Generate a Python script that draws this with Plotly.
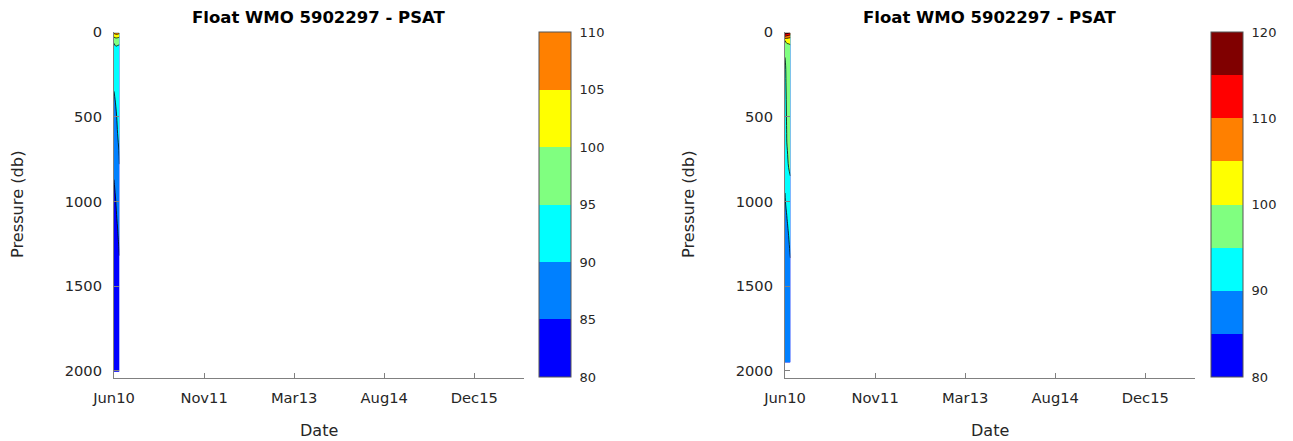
import plotly.graph_objects as go
from datetime import date, timedelta

# ---------------- data ----------------
profile_dates = ["2010-06-25", "2010-07-05", "2010-07-15", "2010-07-25"]

pres_left = [5, 25, 50, 100, 200, 300, 400, 500, 600, 700, 800, 900,
             1000, 1100, 1200, 1300, 1400, 1600, 1800, 2005]
psat_left_p1 = [106, 101, 96, 93, 91.5, 90.5, 89.5, 88.5, 87.5, 86.5, 85.5, 84.8,
                84.3, 83.8, 83.3, 83.0, 82.7, 82.3, 82.0, 81.8]
psat_left_p2 = [107, 102, 97, 94, 92, 91, 90.3, 89.5, 88.5, 87.5, 86.5, 85.7,
                85.0, 84.5, 84.0, 83.6, 83.3, 82.8, 82.4, 82.1]
psat_left_p3 = [107, 102, 96.5, 94, 92.5, 91.5, 91, 90.5, 90, 89, 88, 87,
                86, 85.4, 84.7, 84.2, 83.8, 83.2, 82.8, 82.4]
psat_left_p4 = [106, 101, 96, 94, 93, 92.5, 92, 91.5, 90.8, 90.4, 89.9, 89,
                88, 87, 86, 85.1, 84.6, 83.8, 83.3, 82.9]

pres_right = [5, 25, 50, 100, 200, 300, 400, 500, 600, 700, 800, 900,
              1000, 1100, 1200, 1300, 1400, 1600, 1800, 1950]
psat_right_p1 = [118, 110, 100, 96, 94, 93.5, 93, 92.5, 92, 91.5, 91, 90.3,
                 89.7, 89, 88.5, 88, 87.5, 87, 86.6, 86.3]
psat_right_p2 = [117, 109, 101, 98, 96.8, 96.3, 95.9, 95.6, 95.2, 94.8, 94, 92.5,
                 91, 89.8, 89.3, 88.8, 88.4, 87.8, 87.3, 87.0]
psat_right_p3 = [116, 108, 101, 98.5, 97.2, 96.7, 96.3, 96, 95.7, 95.4, 95, 93.8,
                 92.5, 91.3, 90, 89.5, 89, 88.3, 87.8, 87.4]
psat_right_p4 = [115, 107, 101, 99, 97.5, 97, 96.6, 96.2, 95.8, 95.5, 95.2, 94.8,
                 93, 92, 91, 90.2, 89.6, 88.8, 88.2, 87.8]

x_tick_labels = ["Jun10", "Nov11", "Mar13", "Aug14", "Dec15"]
y_tick_values = [0, 500, 1000, 1500, 2000]
cb_left_range = [80, 110]
cb_right_range = [80, 120]
cb_left_ticks = [80, 85, 90, 95, 100, 105, 110]
cb_right_ticks = [80, 90, 100, 110, 120]
title_text = "Float WMO 5902297 - PSAT"

# ---------------- styling ----------------
W, H = 1293, 441
OFF = 8  # page body margin
BLUE, AZURE, CYAN, LGREEN = "#0000ff", "#0080ff", "#00ffff", "#80ff80"
YELLOW, ORANGE, RED, DRED = "#ffff00", "#ff8000", "#ff0000", "#800000"
TXT = "#262626"
AXC = "#808080"
FONT = "DejaVu Sans"

left_levels = [BLUE, AZURE, CYAN, LGREEN, YELLOW, ORANGE]
right_levels = [BLUE, AZURE, CYAN, LGREEN, YELLOW, ORANGE, RED, DRED]


def contour_scale(colors):
    # band colours sampled at nodes: below-start, each band, above-end
    full = [colors[0]] + colors + [colors[-1]]
    n = len(full) - 1
    return [[i / n, c] for i, c in enumerate(full)]


def bar_scale(colors):
    n = len(colors)
    out = []
    for i, c in enumerate(colors):
        out.append([i / n, c])
        out.append([(i + 1) / n, c])
    return out


d0 = date(2010, 6, 25)
tick_dates = [(d0 + timedelta(days=500 * k)).isoformat() for k in range(len(x_tick_labels))]
x_range = [d0.isoformat(), (d0 + timedelta(days=2276)).isoformat()]


def grid(cols):
    return [list(row) for row in zip(*cols)]


def px(x):
    return (x - OFF) / W


def py(y):
    return 1 - (y - OFF) / H


fig = go.Figure()

panels = [
    dict(xa="x", ya="y", pres=pres_left,
         cols=[psat_left_p1, psat_left_p2, psat_left_p3, psat_left_p4],
         rng=cb_left_range, ticks=cb_left_ticks, levels=left_levels, cbx=539),
    dict(xa="x2", ya="y2", pres=pres_right,
         cols=[psat_right_p1, psat_right_p2, psat_right_p3, psat_right_p4],
         rng=cb_right_range, ticks=cb_right_ticks, levels=right_levels, cbx=1211),
]

for p in panels:
    fig.add_trace(go.Contour(
        x=profile_dates, y=p["pres"], z=grid(p["cols"]),
        contours=dict(start=p["rng"][0], end=p["rng"][1], size=5, coloring="fill"),
        colorscale=contour_scale(p["levels"]),
        line=dict(color="black", width=0.8),
        showscale=False,
        xaxis=p["xa"], yaxis=p["ya"],
        hoverinfo="skip",
    ))
    # colour bar holder (no visible point)
    fig.add_trace(go.Scatter(
        x=[None], y=[None], mode="markers", xaxis=p["xa"], yaxis=p["ya"],
        hoverinfo="skip",
        marker=dict(
            color=[p["rng"][0]], cmin=p["rng"][0], cmax=p["rng"][1],
            colorscale=bar_scale(p["levels"]), showscale=True,
            colorbar=dict(
                x=px(p["cbx"]), xanchor="left", xpad=0, ypad=0,
                y=py(32), yanchor="top", lenmode="pixels", len=345,
                thicknessmode="pixels", thickness=32,
                outlinecolor="#555555", outlinewidth=1,
                tickvals=p["ticks"], ticks="outside", ticklen=6,
                tickcolor="rgba(0,0,0,0)",
                tickfont=dict(family=FONT, size=13, color=TXT),
            ),
        ),
    ))

xaxis_common = dict(
    type="date", range=x_range, tickvals=tick_dates, ticktext=x_tick_labels,
    showline=True, linecolor=AXC, linewidth=1, ticks="inside", ticklen=5,
    tickcolor=AXC, showgrid=False, zeroline=False, ticklabelstandoff=6,
    tickfont=dict(family=FONT, size=14.7, color=TXT), mirror=False, automargin=False,
)
yaxis_common = dict(
    range=[2042, 0], tickvals=y_tick_values,
    showline=True, linecolor=AXC, linewidth=1, ticks="inside", ticklen=5,
    tickcolor=AXC, showgrid=False, zeroline=False, ticklabelstandoff=8,
    tickfont=dict(family=FONT, size=14.7, color=TXT), mirror=False, automargin=False,
)

ydom = [py(378), py(32)]
fig.update_layout(
    width=W, height=H,
    margin=dict(l=0, r=0, t=0, b=0, pad=0, autoexpand=False),
    paper_bgcolor="white", plot_bgcolor="white",
    showlegend=False,
    xaxis=dict(domain=[px(114), px(524)], anchor="y", **xaxis_common),
    yaxis=dict(domain=ydom, anchor="x", **yaxis_common),
    xaxis2=dict(domain=[px(785), px(1195)], anchor="y2", **xaxis_common),
    yaxis2=dict(domain=ydom, anchor="x2", **yaxis_common),
)

annotations = []
for xl, xr, ylab_x in [(114, 524, 17), (785, 1195, 688)]:
    xc = (xl + xr) / 2
    annotations.append(dict(text="<b>" + title_text + "</b>", x=px(xc), y=py(18),
                            xref="paper", yref="paper", showarrow=False,
                            xanchor="center", yanchor="middle",
                            font=dict(family=FONT, size=16.5, color="black")))
    annotations.append(dict(text="Date", x=px(xc), y=py(430),
                            xref="paper", yref="paper", showarrow=False,
                            xanchor="center", yanchor="middle",
                            font=dict(family=FONT, size=16, color=TXT)))
    annotations.append(dict(text="Pressure (db)", x=px(ylab_x), y=py(205),
                            xref="paper", yref="paper", showarrow=False,
                            xanchor="center", yanchor="middle", textangle=-90,
                            font=dict(family=FONT, size=16.2, color=TXT)))
fig.update_layout(annotations=annotations)

fig.write_html("out.html")
